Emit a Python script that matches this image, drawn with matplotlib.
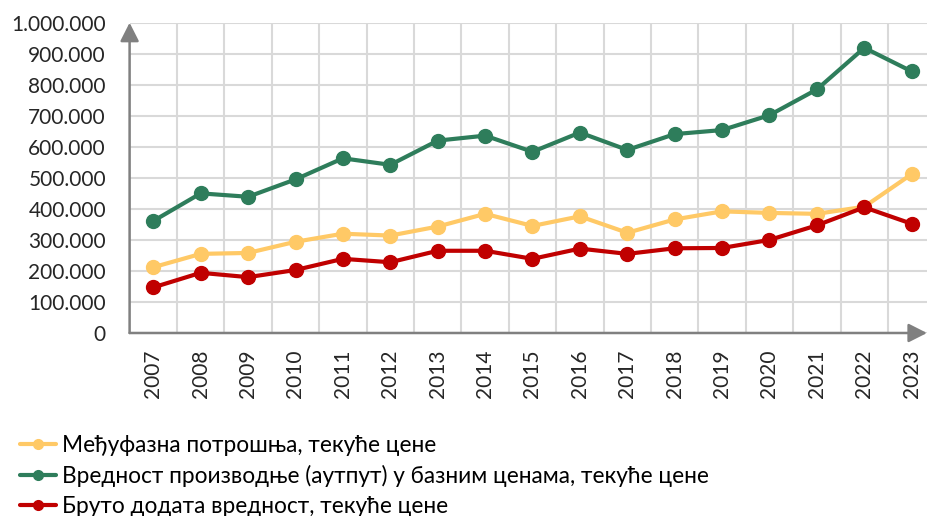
import matplotlib.pyplot as plt
from matplotlib.ticker import FuncFormatter, MultipleLocator

YEARS = [str(y) for y in range(2007, 2024)]

INTERMEDIATE = [212000, 255000, 258000, 294000, 320000, 314000, 343000, 384000, 345000,
                376000, 323000, 366000, 392000, 387000, 384000, 407000, 512000]
OUTPUT = [361000, 450000, 439000, 495000, 563000, 542000, 620000, 636000, 584000,
          646000, 590000, 641000, 654000, 702000, 785000, 919000, 843000]
GVA = [147000, 194000, 180000, 203000, 239000, 228000, 265000, 265000, 239000,
       272000, 255000, 273000, 274000, 300000, 347000, 405000, 352000]

LABELS = [
    "Међуфазна потрошња, текуће цене",
    "Вредност производње (аутпут) у базним ценама, текуће цене",
    "Бруто додата вредност, текуће цене",
]
COLORS = ["#FFC966", "#2E7D5B", "#C00000"]


def thousands(value, _pos):
    return f"{int(value):,}".replace(",", ".")


def main() -> None:
    plt.rcParams["font.family"] = ["Lato", "DejaVu Sans"]
    plt.rcParams["font.size"] = 15

    fig = plt.figure(figsize=(9.28, 5.16), dpi=100)
    left, right, top, bottom = 129.6, 927, 22.7, 333
    ax = fig.add_axes([left / 928, 1 - bottom / 516, (right - left) / 928, (bottom - top) / 516])

    x = list(range(len(YEARS)))
    for values, label, color in zip([INTERMEDIATE, OUTPUT, GVA], LABELS, COLORS):
        ax.plot(x, values, color=color, linewidth=3, marker="o", markersize=10,
                label=label, solid_capstyle="round", zorder=3)

    ax.set_xlim(-0.5, -0.5 + (right - left) / 47.4)
    ax.set_ylim(0, 1000000)
    ax.yaxis.set_major_locator(MultipleLocator(100000))
    ax.yaxis.set_major_formatter(FuncFormatter(thousands))
    ax.set_xticks(x)
    ax.set_xticklabels(YEARS, rotation=90)
    ax.set_xticks([i + 0.5 for i in x[:-1]], minor=True)

    ax.grid(True, axis="y", color="#D9D9D9", linewidth=1.5)
    ax.grid(True, axis="x", which="minor", color="#D9D9D9", linewidth=1.5)
    ax.set_axisbelow(True)
    ax.tick_params(axis="both", which="both", length=0, colors="#262626")
    ax.tick_params(axis="y", pad=17)
    ax.tick_params(axis="x", pad=12)

    for side in ax.spines:
        ax.spines[side].set_visible(False)
    arrow = dict(arrowstyle="-|>,head_length=0.75,head_width=0.38", color="#808080",
                 lw=1.8, shrinkA=0, shrinkB=0)
    ax.annotate("", xy=(0, 1), xytext=(0, 0), xycoords="axes fraction", arrowprops=arrow)
    ax.annotate("", xy=(1, 0), xytext=(0, 0), xycoords="axes fraction", arrowprops=arrow)

    fig.legend(loc="upper left", bbox_to_anchor=(8.7 / 928, 1 - 424 / 516), frameon=False,
               prop={"size": 16.3}, markerscale=0.7, handlelength=1.6,
               handletextpad=0.27, labelspacing=0.38, borderpad=0)

    fig.savefig("out.png", dpi=100)


if __name__ == "__main__":
    main()
